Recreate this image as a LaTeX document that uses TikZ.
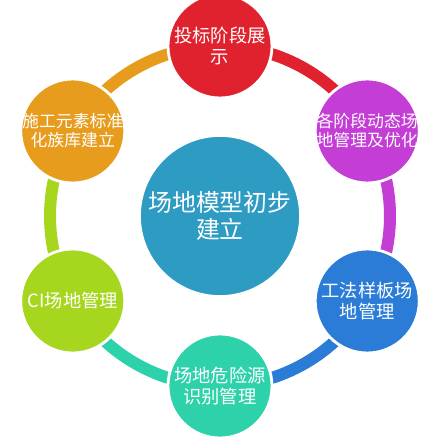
\documentclass[tikz,border=0pt]{standalone}
\usepackage{fontspec}
\newfontfamily\cjk{Noto Sans CJK SC}
\usetikzlibrary{positioning}

\definecolor{cRed}{RGB}{224,34,46}
\definecolor{cMagenta}{RGB}{196,62,214}
\definecolor{cBlue}{RGB}{42,124,214}
\definecolor{cTeal}{RGB}{46,210,170}
\definecolor{cGreen}{RGB}{166,214,30}
\definecolor{cOrange}{RGB}{232,156,30}
\definecolor{cCenter}{RGB}{46,155,195}

\begin{document}
\begin{tikzpicture}[
    sat/.style={circle,minimum size=2.6cm,inner sep=0pt,draw=white,line width=2pt},
    sattext/.style={text=white,align=center,font=\cjk\fontsize{13}{15.5}\selectfont},
    sattextsmall/.style={text=white,align=center,font=\cjk\fontsize{12}{13.5}\selectfont},
    ring/.style={line width=0.3cm,color=#1},
  ]
  \useasboundingbox (-5.5,-5.575) rectangle (5.55,5.4);

  \coordinate (bid)    at (90:4.25);
  \coordinate (stage)  at (30:4.25);
  \coordinate (sample) at (-30:4.25);
  \coordinate (danger) at (-90:4.25);
  \coordinate (ci)     at (-150:4.25);
  \coordinate (family) at (150:4.25);

  % ring pieces, each in the colour of the circle it leaves (clockwise)
  \draw [ring=cRed]     (bid)    arc[start angle=90,end angle=30,radius=4.25];
  \draw [ring=cMagenta] (stage)  arc[start angle=30,end angle=-30,radius=4.25];
  \draw [ring=cBlue]    (sample) arc[start angle=-30,end angle=-90,radius=4.25];
  \draw [ring=cTeal]    (danger) arc[start angle=-90,end angle=-150,radius=4.25];
  \draw [ring=cGreen]   (ci)     arc[start angle=210,end angle=150,radius=4.25];
  \draw [ring=cOrange]  (family) arc[start angle=150,end angle=90,radius=4.25];

  \node [circle,fill=cCenter,minimum size=4cm,inner sep=0pt,draw=white,line width=1.2pt,
         text=white,align=center,font=\cjk\fontsize{17}{19.5}\selectfont] (site) at (0,0)
        {场地模型初步\\建立};

  \node [sat,fill=cRed,label={[sattext]center:投标阶段展\\示}]                 at (bid)    {};
  \node [sat,fill=cMagenta,label={[sattextsmall]center:各阶段动态场\\地管理及优化}] at (stage)  {};
  \node [sat,fill=cBlue,label={[sattext]center:工法样板场\\地管理}]              at (sample) {};
  \node [sat,fill=cTeal,label={[sattext]center:场地危险源\\识别管理}]            at (danger) {};
  \node [sat,fill=cGreen,label={[sattext]center:CI场地管理}]                    at (ci)     {};
  \node [sat,fill=cOrange,label={[sattextsmall]center:施工元素标准\\化族库建立}]   at (family) {};
\end{tikzpicture}
\end{document}
